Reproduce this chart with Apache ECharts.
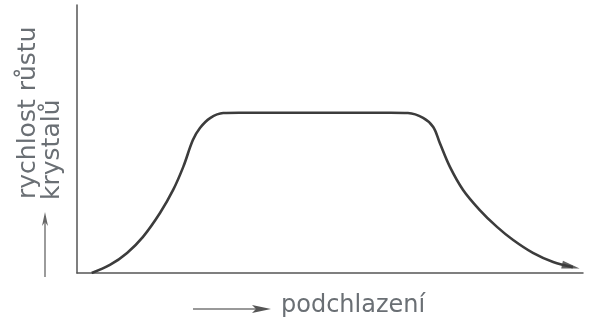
<!DOCTYPE html>
<html>
<head>
<meta charset="utf-8">
<script src="https://cdn.jsdelivr.net/npm/echarts@6/dist/echarts.min.js"></script>
<style>
html,body{margin:0;padding:0;background:#fff;}
#c{width:590px;height:326px;}
</style>
</head>
<body>
<div id="c"></div>
<script>
// Growth-rate curve (arbitrary units, 0–100 on both axes)
var curveX = [2.9, 6.5, 9.9, 13.0, 16.4, 19.0, 21.0, 22.9, 24.3, 26.3, 28.9, 32, 47, 62, 65.4, 68.4, 70.4, 71.7, 73.7, 76.3, 79.6, 83.0, 86.2, 90.1, 94.1, 98.0];
var curveY = [0, 3.0, 7.5, 13.4, 22.4, 31.0, 39.6, 49.6, 54.1, 57.8, 59.7, 59.8, 59.8, 59.8, 59.7, 57.9, 54.5, 48.5, 39.6, 31.0, 23.5, 17.2, 12.3, 7.5, 4.1, 2.2];
var arrowPoint = [97.6, 2.4];
var yLabelLines = ['rychlost růstu', 'krystalů'];
var xLabel = 'podchlazení';

var chart = echarts.init(document.getElementById('c'), null, {renderer: 'canvas'});
var data = curveX.map(function (x, i) { return [x, curveY[i]]; });
var FONT = '"DejaVu Sans", sans-serif';
var TXT = '#6a6f74';

chart.setOption({
  animation: false,
  backgroundColor: '#ffffff',
  grid: {left: 77, right: 7, top: 5, bottom: 53},
  xAxis: {
    type: 'value', min: 0, max: 100,
    axisLine: {show: true, lineStyle: {color: '#555', width: 1.5}},
    axisTick: {show: false}, axisLabel: {show: false}, splitLine: {show: false}
  },
  yAxis: {
    type: 'value', min: 0, max: 100,
    axisLine: {show: true, lineStyle: {color: '#555', width: 1.5}},
    axisTick: {show: false}, axisLabel: {show: false}, splitLine: {show: false}
  },
  series: [
    {
      type: 'line', data: data, smooth: 0.35, symbol: 'none',
      lineStyle: {color: '#3c3c3c', width: 2.6}
    },
    {
      type: 'scatter', data: [arrowPoint], symbol: 'triangle',
      symbolSize: [8, 18], symbolRotate: -102.5,
      itemStyle: {color: '#3c3c3c'}
    }
  ],
  graphic: [
    {type: 'text', x: 28, y: 199, rotation: Math.PI / 2,
     style: {text: yLabelLines[0], font: '25px ' + FONT, fill: TXT, textAlign: 'left', textVerticalAlign: 'middle'}},
    {type: 'text', x: 52, y: 200, rotation: Math.PI / 2,
     style: {text: yLabelLines[1], font: '25px ' + FONT, fill: TXT, textAlign: 'left', textVerticalAlign: 'middle'}},
    {type: 'line', shape: {x1: 45, y1: 277, x2: 45, y2: 216}, style: {stroke: '#666', lineWidth: 1.3}},
    {type: 'polygon', shape: {points: [[45, 212], [42, 226], [45, 222], [48, 226]]}, style: {fill: '#666'}},
    {type: 'line', shape: {x1: 193, y1: 309, x2: 256, y2: 309}, style: {stroke: '#777', lineWidth: 1.3}},
    {type: 'polygon', shape: {points: [[271, 309], [252, 305], [256, 309], [252, 313]]}, style: {fill: '#555'}},
    {type: 'text', x: 281, y: 306,
     style: {text: xLabel, font: '24px ' + FONT, fill: TXT, textAlign: 'left', textVerticalAlign: 'middle'}}
  ]
});
</script>
</body>
</html>
